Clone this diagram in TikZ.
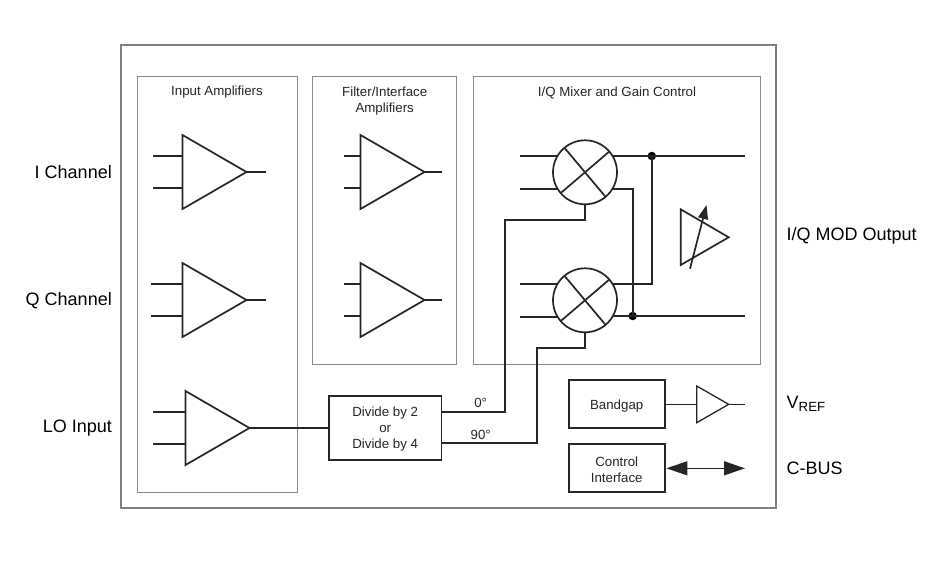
\documentclass[tikz,border=0pt]{standalone}
\usepackage{fontspec}
\setmainfont{Liberation Sans}
\usetikzlibrary{calc,arrows.meta}
\definecolor{wire}{HTML}{262626}
\definecolor{framegray}{HTML}{808080}
\definecolor{panelgray}{HTML}{8C8C8C}
\tikzset{
  wireline/.style={draw=wire,line width=1.7pt,line join=miter},
  thinwire/.style={draw=wire,line width=1.3pt},
  frame/.style={draw=framegray,line width=2.8pt,rectangle,inner sep=0pt,minimum width=655pt,minimum height=463pt},
  panel/.style={draw=panelgray,line width=1pt,rectangle,inner sep=0pt},
  title/.style={font=\fontsize{13.3}{16}\selectfont,align=center,text=wire,inner sep=0pt},
  blocklabel/.style={font=\fontsize{13.3}{16}\selectfont,align=center,text=wire,inner sep=0pt,yshift=-1.5pt},
  sidelabel/.style={font=\fontsize{18}{22}\selectfont,text=black,inner sep=0pt},
  phase/.style={font=\fontsize{13.3}{16}\selectfont,text=wire,inner sep=0pt},
  blockbox/.style={wireline,rectangle,inner sep=0pt,fill=white},
  mixer/.style={wireline,circle,inner sep=0pt,minimum size=64pt,fill=white},
  junction/.style={circle,fill=black,inner sep=0pt,minimum size=8.5pt},
  pics/amp/.style n args={2}{code={
    \coordinate (-tip) at (64,0);
    \coordinate (-top) at (0,-37);
    \coordinate (-bot) at (0,37);
    \draw[wireline] (-top) -- (-tip) -- (-bot) -- cycle;
    \draw[wireline] (-#1,-16) -- (0,-16);
    \draw[wireline] (-#1,16) -- (0,16);
    \ifnum#2>0 \draw[wireline] (-tip) -- ++(#2,0); \fi
  }}
}
\begin{document}
\begin{tikzpicture}[x=1pt,y=-1pt]
\useasboundingbox (0,0) rectangle (925,560);
\fill[white] (0,0) rectangle (925,560);

% frame and panels
\node[frame] (outer) at (448.5,276.5) {};
\node[panel,minimum width=160pt,minimum height=415.5pt] (pinput) at (217.2,284.5) {};
\node[panel,minimum width=144.5pt,minimum height=287.5pt] (pfilter) at (384.5,220.5) {};
\node[panel,minimum width=287.5pt,minimum height=287.5pt] (pmixer) at (617,220.5) {};

% panel titles
\node[title] (tinput) at (217,92.5) {Input Amplifiers};
\node[title] (tfilter) at (384.7,101.5) {Filter/Interface\\Amplifiers};
\node[title] (tmixer) at (617,92.5) {I/Q Mixer and Gain Control};

% amplifiers
\pic (a1) at (182.5,172) {amp={30}{19}};
\pic (a2) at (360.5,172) {amp={16.5}{17}};
\pic (a3) at (182.5,300) {amp={32}{19}};
\pic (a4) at (360.5,300) {amp={16.5}{17}};
\pic (a5) at (185.5,428) {amp={33}{0}};

% blocks
\node[blockbox,minimum width=112.5pt,minimum height=64pt,label={[blocklabel]center:{Divide by 2\\or\\Divide by 4}}] (div) at (385.2,428) {};
\node[blockbox,minimum width=96pt,minimum height=48pt,label={[blocklabel]center:{Bandgap}}] (band) at (616.7,404.3) {};
\node[blockbox,minimum width=96pt,minimum height=48pt,label={[blocklabel]center:{Control\\Interface}}] (ctrl) at (616.7,468.3) {};

% mixers
\node[mixer] (m1) at (585,172.3) {};
\node[mixer] (m2) at (585,300.3) {};
\foreach \m in {m1,m2}{
  \draw[wireline] ($(\m.center)+(-20.5,-24.5)$) -- ($(\m.center)+(20.5,24.5)$);
  \draw[wireline] ($(\m.center)+(-24,20.5)$) -- ($(\m.center)+(24,-20.5)$);
}

% mixer inputs
\coordinate (m1ia) at (520,156);
\coordinate (m1ib) at (520,189);
\coordinate (m2ia) at (520,284);
\coordinate (m2ib) at (520,317);
\draw[wireline] (m1ia) -- (m1ia -| m1.150);
\draw[wireline] (m1ib) -- (m1ib -| m1.210);
\draw[wireline] (m2ia) -- (m2ia -| m2.150);
\draw[wireline] (m2ib) -- (m2ib -| m2.210);

% LO path
\draw[wireline] (a5-tip) -- (div.west);
\coordinate (d0) at (505,412);
\coordinate (d0u) at (505,220);
\coordinate (d90) at (537,443);
\coordinate (d90u) at (537,348);
\draw[wireline] (d0 -| div.east) -- (d0) -- (d0u) -| (m1.south);
\draw[wireline] (d90 -| div.east) -- (d90) -- (d90u) -| (m2.south);
\node[phase] (p0) at (480.7,403) {0°};
\node[phase] (p90) at (480.7,435) {90°};

% mixer outputs
\coordinate (outa) at (744.5,156);
\coordinate (outb) at (745,316);
\node[junction] (ja) at (651.8,156) {};
\node[junction] (jb) at (632.7,316) {};
\draw[wireline] (ja.center -| m1.30) -- (outa);
\draw[wireline] (jb.center -| m2.330) -- (outb);
\draw[wireline] (ja.center) |- (m2.30);
\draw[wireline] (jb.center) |- (m1.330);

% variable gain amplifier
\coordinate (vt) at (680.7,209.3);
\coordinate (vb) at (680.7,265);
\coordinate (vp) at (728.7,237.3);
\coordinate (va) at (690,268.7);
\coordinate (vh) at (706.5,205);
\draw[wireline] (vt) -- (vp) -- (vb) -- cycle;
\draw[wireline,-{Triangle[length=14pt,width=10pt]}] (va) -- (vh);

% bandgap buffer
\coordinate (bt) at (696.7,386);
\coordinate (bb) at (696.7,422.7);
\coordinate (bp) at (728.7,404.3);
\coordinate (bo) at (745,404.3);
\draw[thinwire] (bt) -- (bp) -- (bb) -- cycle;
\draw[thinwire] (band.east) -- (bb |- band.east);
\draw[thinwire] (bp) -- (bo);

% C-BUS arrow
\coordinate (busend) at (745,468.3);
\draw[thinwire,{Triangle[length=21pt,width=14pt]}-{Triangle[length=21pt,width=14pt]}] (ctrl.east) ++(0.8,0) -- (busend);

% side labels
\node[sidelabel,anchor=east] (li) at (112,172.3) {I Channel};
\node[sidelabel,anchor=east] (lq) at (112,300.3) {Q Channel};
\node[sidelabel,anchor=east] (ll) at (112,428.3) {LO Input};
\node[sidelabel,anchor=west] (lm) at (786.5,235.8) {I/Q MOD Output};
\node[sidelabel,anchor=west] (lv) at (786.5,404) {V\raisebox{-3.5pt}{\fontsize{13.3}{16}\selectfont REF}};
\node[sidelabel,anchor=west] (lc) at (786.5,468.3) {C-BUS};
\end{tikzpicture}
\end{document}
